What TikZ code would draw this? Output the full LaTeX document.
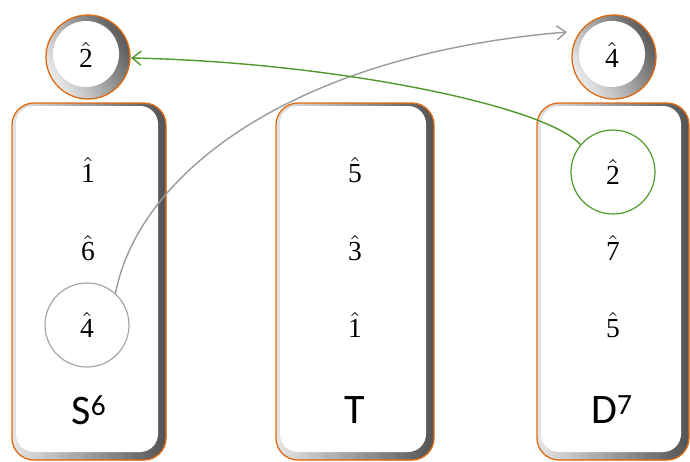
\documentclass[tikz,border=0pt]{standalone}
\usepackage{fontspec}
\usepackage{graphicx}
\newfontfamily\labfont{Carlito}
\newfontfamily\digfont{Liberation Serif}
\usetikzlibrary{arrows.meta}
\definecolor{orng}{HTML}{E06A12}
\definecolor{grn}{HTML}{4E9A2C}
\definecolor{garr}{HTML}{9A9A9A}
\newcommand\dg[1]{\scalebox{2.75}{$\hat{\hbox{\digfont #1}}$}}
\tikzset{
  deg/.style={inner sep=0pt},
  lab/.style={font=\labfont\fontsize{42}{44}\selectfont},
  ring/.style={circle, draw=#1, line width=1.2pt, minimum size=84pt, inner sep=0pt},
  arr/.style={line width=1.4pt, -{Straight Barb[length=9pt,width=14pt]}},
}
\newcommand\bevbox[4]{%
  \fill[left color=gray!20, right color=gray!65!black, rounded corners=22pt] (#1,#2) rectangle (#3,#4);
  \fill[white, rounded corners=18pt] (#1+4,#2+3) rectangle (#3-8,#4-8);
  \draw[orng, line width=1.3pt, rounded corners=22pt] (#1,#2) rectangle (#3,#4);
}
\newcommand\bevcirc[2]{%
  \fill[left color=gray!15, right color=gray!70!black, shading angle=120] (#1,#2) circle (42pt);
  \fill[white] (#1-2,#2-3) circle (33pt);
  \draw[orng, line width=1.3pt] (#1,#2) circle (42pt);
}
\begin{document}
\begin{tikzpicture}[x=1pt,y=-1pt]
\useasboundingbox (0,0) rectangle (690,461);
% boxes
\bevbox{12}{103}{166}{460}
\bevbox{276}{103}{434}{460}
\bevbox{537}{103}{689}{460}
% top circles
\bevcirc{88}{57}
\bevcirc{614}{57}
\node[deg] (t2) at (86,55) {\dg{2}};
\node[deg] (t4) at (612,55) {\dg{4}};
% left column
\node[deg] (l1) at (88,170) {\dg{1}};
\node[deg] (l6) at (88,248) {\dg{6}};
\node[ring=gray!70] (l4c) at (87,325) {\dg{4}};
\node[lab] (S) at (89,410) {S\textsuperscript{6}};
% middle column
\node[deg] (m5) at (355,170) {\dg{5}};
\node[deg] (m3) at (355,248) {\dg{3}};
\node[deg] (m1) at (355,325) {\dg{1}};
\node[lab] (T) at (355,410) {T};
% right column
\node[ring=grn] (r2c) at (613,172) {\dg{2}};
\node[deg] (r7) at (613,248) {\dg{7}};
\node[deg] (r5) at (613,325) {\dg{5}};
\node[lab] (D) at (612,410) {D\textsuperscript{7}};
% arrows
\coordinate (gend) at (567,32);
\coordinate (lend) at (131,58);
\draw[arr, garr] (l4c.48) .. controls (138,175) and (290,55) .. (gend);
\draw[arr, grn] (r2c.140) .. controls (545,105) and (330,62) .. (lend);
\end{tikzpicture}
\end{document}
